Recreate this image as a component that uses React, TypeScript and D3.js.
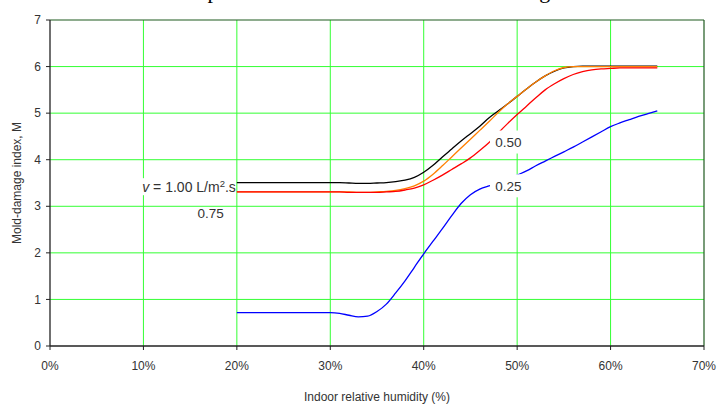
import * as d3 from "d3";

// relative humidity grid (%)
const rh = [20, 25, 30, 31, 32, 33, 34, 35, 36, 37, 38, 39, 40, 41, 42, 43, 44, 45, 46, 47, 48, 49, 50, 51, 52, 53, 54, 55, 56, 57, 58, 59, 60, 61, 62, 63, 64, 65];

// mold-damage index per ventilation rate
const m100 = [3.51, 3.51, 3.51, 3.51, 3.5, 3.49, 3.49, 3.5, 3.51, 3.53, 3.56, 3.62, 3.73, 3.88, 4.06, 4.23, 4.4, 4.56, 4.72, 4.9, 5.05, 5.2, 5.36, 5.52, 5.67, 5.8, 5.9, 5.97, 6.0, 6.01, 6.01, 6.01, 6.01, 6.01, 6.01, 6.01, 6.01, 6.01];
const m075 = [3.31, 3.31, 3.31, 3.31, 3.31, 3.3, 3.3, 3.31, 3.32, 3.34, 3.38, 3.44, 3.54, 3.69, 3.87, 4.06, 4.25, 4.44, 4.63, 4.82, 5.02, 5.2, 5.36, 5.52, 5.67, 5.8, 5.91, 5.98, 6.0, 6.0, 6.0, 6.0, 6.0, 6.0, 6.0, 6.0, 6.0, 6.0];
const m050 = [3.31, 3.31, 3.31, 3.31, 3.3, 3.3, 3.3, 3.3, 3.31, 3.32, 3.35, 3.39, 3.46, 3.56, 3.67, 3.79, 3.91, 4.04, 4.2, 4.37, 4.58, 4.78, 4.97, 5.15, 5.33, 5.5, 5.63, 5.74, 5.83, 5.89, 5.93, 5.95, 5.96, 5.97, 5.97, 5.97, 5.97, 5.97];
const m025 = [0.715, 0.715, 0.715, 0.7, 0.66, 0.625, 0.64, 0.74, 0.9, 1.14, 1.4, 1.69, 1.98, 2.25, 2.52, 2.8, 3.06, 3.25, 3.37, 3.44, 3.5, 3.58, 3.67, 3.76, 3.87, 3.97, 4.07, 4.17, 4.27, 4.38, 4.49, 4.6, 4.71, 4.79, 4.86, 4.93, 4.99, 5.05];

const seriesNames = ["1.00", "0.75", "0.50", "0.25"];
const seriesColors = ["#000000", "#ff7f00", "#ff0000", "#0000ff"];

const xTicks = [0, 10, 20, 30, 40, 50, 60, 70];
const yTicks = [0, 1, 2, 3, 4, 5, 6, 7];

// in-plot labels: [text, rh, M]
const curveLabels: [string, number, number][] = [
  ["0.50", 49.07, 4.38],
  ["0.25", 49.07, 3.44],
];

export default function App() {
  const W = 717;
  const H = 409;
  const margin = { top: 20, right: 13, bottom: 63, left: 50 };
  const innerW = W - margin.left - margin.right;
  const innerH = H - margin.top - margin.bottom;

  const x = d3.scaleLinear().domain([0, 70]).range([0, innerW]);
  const y = d3.scaleLinear().domain([0, 7]).range([innerH, 0]);

  const line = d3
    .line<[number, number]>()
    .x((d) => x(d[0]))
    .y((d) => y(d[1]))
    .curve(d3.curveMonotoneX);

  const series = [m100, m075, m050, m025].map((vals) => rh.map((h, i) => [h, vals[i]] as [number, number]));

  const font = "Arial, 'Liberation Sans', sans-serif";

  return (
    <svg width={W} height={H} style={{ position: "absolute", left: 0, top: 0, background: "#fff" }} fontFamily={font}>
      <text x={183} y={-2} fontFamily="'Times New Roman', 'Liberation Serif', serif" fontSize={22} fill="#000">
        Experimental and calculated mold-damage index
      </text>
      <g transform={`translate(${margin.left},${margin.top})`}>
        {/* grid */}
        {xTicks.filter((t) => t > 0 && t < 70).map((t) => (
          <line key={`gx${t}`} x1={x(t)} x2={x(t)} y1={0} y2={innerH} stroke="#33ff33" strokeWidth={1} />
        ))}
        {yTicks.filter((t) => t > 0 && t < 7).map((t) => (
          <line key={`gy${t}`} x1={0} x2={innerW} y1={y(t)} y2={y(t)} stroke="#33ff33" strokeWidth={1} />
        ))}
        {/* frame top/right */}
        <line x1={0} x2={innerW} y1={0} y2={0} stroke="#1f5a1f" strokeWidth={1.2} />
        <line x1={innerW} x2={innerW} y1={0} y2={innerH} stroke="#1f5a1f" strokeWidth={1.2} />

        {/* curves */}
        {series.map((s, i) => (
          <path key={seriesNames[i]} d={line(s) ?? ""} fill="none" stroke={seriesColors[i]} strokeWidth={1.3} />
        ))}

        {/* curve labels */}
        {curveLabels.map(([t, h, m]) => (
          <g key={t} transform={`translate(${x(h)},${y(m)})`}>
            <rect x={-18.5} y={-11.5} width={37} height={23} fill="#fff" />
            <text textAnchor="middle" dy="0.35em" fontSize={13.5} fill="#333">
              {t}
            </text>
          </g>
        ))}
        <g transform={`translate(${x(20) - 1},${y(3.41)})`}>
          <rect x={-102} y={-9} width={101} height={17} fill="#fff" />
          <text textAnchor="end" dy="0.35em" fontSize={14} fill="#333">
            <tspan fontStyle="italic">v</tspan>
            <tspan> = 1.00 L/m</tspan>
            <tspan fontSize={9.5} dy="-5">2</tspan>
            <tspan dy="5">.s</tspan>
          </text>
        </g>
        <text x={x(17.2)} y={y(2.86)} textAnchor="middle" dy="0.35em" fontSize={13.5} fill="#333">
          0.75
        </text>

        {/* axes */}
        <line x1={0} x2={0} y1={0} y2={innerH} stroke="#222" strokeWidth={1.3} />
        <line x1={0} x2={innerW} y1={innerH} y2={innerH} stroke="#222" strokeWidth={1.3} />
        {yTicks.map((t) => (
          <g key={`yt${t}`} transform={`translate(0,${y(t)})`}>
            <line x1={-4} x2={0} stroke="#222" />
            <text x={-9} dy="0.35em" textAnchor="end" fontSize={12} fill="#333">
              {t}
            </text>
          </g>
        ))}
        {xTicks.map((t) => (
          <g key={`xt${t}`} transform={`translate(${x(t)},${innerH})`}>
            <line y1={0} y2={4} stroke="#222" />
            <text y={20} dy="0.35em" textAnchor="middle" fontSize={12} fill="#333">
              {t}%
            </text>
          </g>
        ))}
        <text x={innerW / 2} y={innerH + 51} dy="0.35em" textAnchor="middle" fontSize={12} fill="#333">
          Indoor relative humidity (%)
        </text>
        <text transform={`translate(${-33},${innerH / 2}) rotate(-90)`} dy="0.35em" textAnchor="middle" fontSize={12} fill="#333">
          Mold-damage index, M
        </text>
      </g>
    </svg>
  );
}
